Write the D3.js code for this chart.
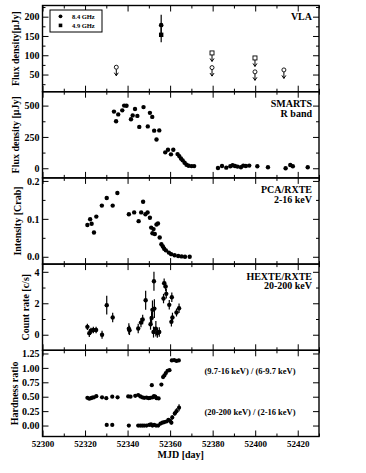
<!DOCTYPE html>
<html>
<head>
<meta charset="utf-8">
<script src="https://cdn.jsdelivr.net/npm/d3@7"></script>
<style>
  body { margin: 0; background: #fff; }
  svg { display: block; }
  text { font-family: "Liberation Serif", "DejaVu Serif", serif; font-weight: bold; fill: #000; }
</style>
</head>
<body>
<svg id="chart"></svg>
<script>
// ---- data ----
var mjdMajor = [52300, 52320, 52340, 52360, 52380, 52400, 52420];
var mjdMinor = [52310, 52330, 52350, 52370, 52390, 52410, 52430];

// VLA: [mjd, flux, err]
var vla84 = [[52355.8, 178, 27]];
var vla49 = [[52355.8, 153, 19]];
// VLA upper limits: [mjd, flux]
var vla84Lim = [[52334.7, 69], [52379.7, 68], [52399.9, 57], [52413.5, 62]];
var vla49Lim = [[52379.7, 106], [52399.9, 93]];

// SMARTS R band: [mjd, flux]
var smarts = [
  [52333.6, 452], [52334.6, 375], [52335.6, 430], [52337.5, 462], [52338.4, 500],
  [52339.5, 499], [52341.6, 391], [52342.4, 422], [52343.5, 473], [52344.6, 418],
  [52345.5, 330], [52347.5, 488], [52349.5, 334], [52350.5, 442], [52351.6, 410],
  [52352.5, 300], [52353.6, 229], [52354.9, 302], [52357.7, 127], [52359.0, 148],
  [52360.4, 111], [52361.5, 148], [52363.5, 113], [52364.3, 97], [52365.1, 78],
  [52365.9, 63], [52366.8, 44], [52367.7, 28], [52368.7, 20], [52370.1, 17],
  [52371.3, 17],
  [52382.5, 2], [52384.4, 18], [52386.4, 5], [52388.3, 16], [52389.4, 24],
  [52390.5, 18], [52391.7, 13], [52393.3, 8], [52394.4, 21], [52395.6, 18],
  [52397.2, 21], [52401.0, 16], [52406.0, 8], [52414.3, 0], [52416.5, 26],
  [52417.7, 16], [52424.7, 8]
];

// PCA/RXTE 2-16 keV: [mjd, crab]
var pca = [
  [52321.1, 0.084], [52322.4, 0.099], [52323.1, 0.087], [52324.2, 0.064], [52325.3, 0.106],
  [52327.9, 0.135], [52330.2, 0.155], [52333.0, 0.135], [52335.2, 0.168], [52340.6, 0.112],
  [52343.1, 0.117], [52345.2, 0.094], [52346.4, 0.117], [52347.3, 0.145], [52348.4, 0.112],
  [52349.4, 0.117], [52350.5, 0.103], [52351.1, 0.077], [52351.7, 0.062], [52352.2, 0.073],
  [52352.8, 0.060], [52353.6, 0.085], [52354.3, 0.088], [52355.1, 0.051], [52355.9, 0.033],
  [52356.6, 0.027], [52357.2, 0.021], [52358.0, 0.017], [52359.4, 0.011], [52360.5, 0.007],
  [52362.1, 0.004], [52363.8, 0.002], [52365.4, 0.001], [52367.0, 0.000], [52369.2, 0.000]
];

// HEXTE/RXTE 20-200 keV: [mjd, rate, err]
var hexte = [
  [52321.1, 0.50, 0.2], [52322.0, 0.10, 0.25], [52322.8, 0.25, 0.2], [52323.9, 0.30, 0.2],
  [52325.2, 0.30, 0.2], [52328.0, 0.00, 0.25], [52330.2, 1.88, 0.6], [52333.0, 1.10, 0.3],
  [52340.6, 0.38, 0.35], [52340.9, 0.28, 0.3], [52345.0, 0.40, 0.3], [52346.3, 0.77, 0.3],
  [52347.1, 0.97, 0.3], [52348.5, 2.19, 0.6], [52350.8, 0.67, 0.35], [52351.3, 1.07, 0.4],
  [52351.7, 1.58, 0.6], [52352.2, 0.17, 0.35], [52352.4, 3.40, 0.6], [52352.6, 1.66, 0.6],
  [52353.3, 0.38, 0.5], [52354.0, 0.11, 0.3], [52354.9, 0.17, 0.3], [52356.9, 2.30, 0.3],
  [52357.2, 3.28, 0.3], [52357.9, 3.07, 0.3], [52358.2, 2.60, 0.3], [52359.6, 1.90, 0.3],
  [52360.8, 2.38, 0.3], [52360.6, 0.82, 0.3], [52361.1, 1.10, 0.3], [52363.0, 1.41, 0.25],
  [52364.2, 1.68, 0.3]
];

// hardness ratios: [mjd, ratio, err]
var hrSoft = [
  [52321.1, 0.48, 0.01], [52322.0, 0.465, 0.01], [52322.8, 0.475, 0.01], [52323.4, 0.485, 0.01],
  [52324.2, 0.49, 0.01], [52325.3, 0.51, 0.01], [52328.0, 0.49, 0.01], [52330.0, 0.475, 0.01],
  [52332.8, 0.50, 0.01], [52335.3, 0.49, 0.01], [52340.3, 0.505, 0.01], [52341.4, 0.50, 0.01],
  [52343.6, 0.515, 0.01], [52345.0, 0.53, 0.01], [52346.0, 0.505, 0.01], [52346.9, 0.49, 0.01],
  [52347.8, 0.48, 0.01], [52348.9, 0.485, 0.01], [52349.9, 0.475, 0.01], [52350.7, 0.48, 0.01],
  [52351.4, 0.70, 0.01], [52351.8, 0.49, 0.01], [52352.4, 0.51, 0.01], [52353.0, 0.50, 0.01],
  [52353.6, 0.475, 0.01], [52354.6, 0.47, 0.01], [52355.9, 0.71, 0.01], [52356.7, 0.84, 0.02],
  [52357.3, 0.87, 0.02], [52358.0, 0.91, 0.02], [52358.8, 0.95, 0.02], [52359.7, 0.96, 0.02],
  [52360.8, 1.13, 0.02], [52361.9, 1.135, 0.02], [52363.0, 1.12, 0.02], [52364.1, 1.13, 0.02]
];
var hrHard = [
  [52330.2, 0.01, 0.01], [52332.8, 0.01, 0.01], [52340.6, 0.00, 0.01], [52345.0, 0.00, 0.01],
  [52346.0, 0.00, 0.01], [52346.9, 0.00, 0.01], [52347.8, 0.00, 0.01], [52348.9, 0.00, 0.01],
  [52350.2, 0.01, 0.01], [52351.0, 0.02, 0.01], [52351.7, 0.00, 0.01], [52352.5, 0.01, 0.01],
  [52353.4, 0.00, 0.01], [52354.4, 0.00, 0.01], [52355.5, 0.035, 0.015], [52356.4, 0.05, 0.02],
  [52357.3, 0.06, 0.02], [52358.3, 0.07, 0.02], [52359.2, 0.10, 0.03], [52360.0, 0.08, 0.03],
  [52360.6, 0.05, 0.03], [52361.0, 0.14, 0.04], [52362.2, 0.21, 0.04], [52363.0, 0.25, 0.05],
  [52364.2, 0.31, 0.06]
];

// ---- layout ----
var width = 366, height = 473;
var left = 42.5, right = 319;
var top0 = 5.5, panelH = 86.2;

var svg = d3.select("#chart").attr("width", width).attr("height", height);

var x = d3.scaleLinear().domain([52300, 52430]).range([left, right]);

var panels = [
  { domain: [5.5, 229], major: [50, 100, 150, 200], minor: [25, 75, 125, 175, 225],
    fmt: d3.format("d"), title: "Flux density[\u03bcJy]", titleX: 15, labels: ["VLA"], ly: 14 },
  { domain: [-77, 611], major: [0, 250, 500], minor: [125, 375],
    fmt: d3.format("d"), title: "Flux density [\u03bcJy]", titleX: 15, labels: ["SMARTS", "R band"], ly: 15.5 },
  { domain: [-0.0193, 0.208], major: [0, 0.1, 0.2], minor: [0.05, 0.15],
    fmt: d3.format(".1f"), title: "Intensity [Crab]", titleX: 17, labels: ["PCA/RXTE", "2-16 keV"], ly: 15.5 },
  { domain: [-0.99, 4.49], major: [0, 2, 4], minor: [1, 3],
    fmt: d3.format("d"), title: "Count rate [c/s]", titleX: 25, labels: ["HEXTE/RXTE", "20-200 keV"], ly: 15.5 },
  { domain: [-0.19, 1.305], major: [0, 0.25, 0.5, 0.75, 1.0, 1.25], minor: [],
    fmt: d3.format(".2f"), title: "Hardness ratio", titleX: 14, labels: [], ly: 15 }
];

panels.forEach(function (p, i) {
  var y0 = top0 + i * panelH, y1 = y0 + panelH;
  p.y = d3.scaleLinear().domain(p.domain).range([y1, y0]);
  var g = svg.append("g");
  p.g = g;

  // y axes, ticks inward on both sides
  g.append("g").attr("transform", "translate(" + left + ",0)")
    .call(d3.axisLeft(p.y).tickValues(p.major).tickSize(-6).tickPadding(3).tickFormat(p.fmt))
    .call(styleAxis)
    .selectAll("text").style("font-size", "10px");
  g.append("g").attr("transform", "translate(" + left + ",0)")
    .call(d3.axisLeft(p.y).tickValues(p.minor).tickSize(-3).tickFormat(""))
    .call(styleAxis);
  g.append("g").attr("transform", "translate(" + right + ",0)")
    .call(d3.axisRight(p.y).tickValues(p.major).tickSize(-6).tickFormat(""))
    .call(styleAxis);
  g.append("g").attr("transform", "translate(" + right + ",0)")
    .call(d3.axisRight(p.y).tickValues(p.minor).tickSize(-3).tickFormat(""))
    .call(styleAxis);

  // x ticks on top and bottom of every panel
  var last = i === panels.length - 1;
  g.append("g").attr("transform", "translate(0," + y1 + ")")
    .call(d3.axisBottom(x).tickValues(mjdMajor).tickSize(-6).tickPadding(4)
      .tickFormat(last ? d3.format("d") : ""))
    .call(styleAxis);
  g.append("g").attr("transform", "translate(0," + y1 + ")")
    .call(d3.axisBottom(x).tickValues(mjdMinor).tickSize(-3).tickFormat(""))
    .call(styleAxis);
  g.append("g").attr("transform", "translate(0," + y0 + ")")
    .call(d3.axisTop(x).tickValues(mjdMajor).tickSize(-6).tickFormat(""))
    .call(styleAxis);
  g.append("g").attr("transform", "translate(0," + y0 + ")")
    .call(d3.axisTop(x).tickValues(mjdMinor).tickSize(-3).tickFormat(""))
    .call(styleAxis);

  g.append("rect")
    .attr("x", left).attr("y", y0)
    .attr("width", right - left).attr("height", panelH)
    .attr("fill", "none").attr("stroke", "#000").attr("stroke-width", 1.4);

  g.append("text")
    .attr("transform", "translate(" + p.titleX + "," + ((y0 + y1) / 2) + ") rotate(-90)")
    .attr("text-anchor", "middle").attr("dominant-baseline", "central")
    .style("font-size", "10px").text(p.title);

  p.labels.forEach(function (t, k) {
    g.append("text").attr("x", 312).attr("y", y0 + p.ly + k * 9.8)
      .attr("text-anchor", "end").style("font-size", "10px").text(t);
  });
});

function styleAxis(sel) {
  sel.select(".domain").remove();
  sel.selectAll("line").attr("stroke", "#000").attr("stroke-width", 1);
  sel.selectAll("text").style("font-size", "9px")
    .style("font-family", "'Liberation Serif', serif").style("font-weight", "bold");
}

svg.append("text").attr("x", (left + right) / 2).attr("y", 458)
  .attr("text-anchor", "middle").style("font-size", "10px").text("MJD [day]");

// ---- panel 1: VLA ----
var p1 = panels[0];
function errBars(g, data, y) {
  g.selectAll(null).data(data).enter().append("line")
    .attr("x1", function (d) { return x(d[0]); }).attr("x2", function (d) { return x(d[0]); })
    .attr("y1", function (d) { return y(d[1] - d[2]); }).attr("y2", function (d) { return y(d[1] + d[2]); })
    .attr("stroke", "#000").attr("stroke-width", 1.2);
}
errBars(p1.g, vla84, p1.y);
errBars(p1.g, vla49, p1.y);
p1.g.selectAll(null).data(vla84).enter().append("circle")
  .attr("cx", function (d) { return x(d[0]); }).attr("cy", function (d) { return p1.y(d[1]); })
  .attr("r", 2.3);
p1.g.selectAll(null).data(vla49).enter().append("rect")
  .attr("x", function (d) { return x(d[0]) - 2.2; }).attr("y", function (d) { return p1.y(d[1]) - 2.2; })
  .attr("width", 4.4).attr("height", 4.4);

function limits(g, data, y, square) {
  var s = g.selectAll(null).data(data).enter().append("g")
    .attr("transform", function (d) { return "translate(" + x(d[0]) + "," + y(d[1]) + ")"; });
  s.append("line").attr("y1", 2).attr("y2", 8.5).attr("stroke", "#000").attr("stroke-width", 1);
  s.append("path").attr("d", "M-2,5.5L0,8.5L2,5.5").attr("fill", "none")
    .attr("stroke", "#000").attr("stroke-width", 1);
  if (square) {
    s.append("rect").attr("x", -2).attr("y", -2).attr("width", 4).attr("height", 4)
      .attr("fill", "#fff").attr("stroke", "#000").attr("stroke-width", 0.9);
  } else {
    s.append("circle").attr("r", 2).attr("fill", "#fff")
      .attr("stroke", "#000").attr("stroke-width", 0.9);
  }
}
limits(p1.g, vla84Lim, p1.y, false);
limits(p1.g, vla49Lim, p1.y, true);

// legend
var lg = p1.g.append("g");
lg.append("rect").attr("x", 50).attr("y", 10).attr("width", 52).attr("height", 22)
  .attr("fill", "#fff").attr("stroke", "#000").attr("stroke-width", 1);
lg.append("circle").attr("cx", 60.5).attr("cy", 16.3).attr("r", 1.9);
lg.append("rect").attr("x", 58.7).attr("y", 23.6).attr("width", 3.6).attr("height", 3.6);
lg.append("text").attr("x", 72).attr("y", 18.5).style("font-size", "6.5px").text("8.4 GHz");
lg.append("text").attr("x", 72).attr("y", 27.5).style("font-size", "6.5px").text("4.9 GHz");

// ---- panel 2 and 3: dots ----
function dots(g, data, y, r) {
  g.selectAll(null).data(data).enter().append("circle")
    .attr("cx", function (d) { return x(d[0]); }).attr("cy", function (d) { return y(d[1]); })
    .attr("r", r);
}
dots(panels[1].g, smarts, panels[1].y, 2.2);
dots(panels[2].g, pca, panels[2].y, 2.2);

// ---- panel 4: HEXTE ----
errBars(panels[3].g, hexte, panels[3].y);
dots(panels[3].g, hexte, panels[3].y, 2.2);

// ---- panel 5: hardness ----
var p5 = panels[4];
errBars(p5.g, hrSoft, p5.y);
errBars(p5.g, hrHard, p5.y);
dots(p5.g, hrSoft, p5.y, 2.1);
dots(p5.g, hrHard, p5.y, 2.1);
p5.g.append("text").attr("x", 250).attr("y", p5.y(1.0) + 5.7)
  .attr("text-anchor", "middle").style("font-size", "8.5px").text("(9.7-16 keV) / (6-9.7 keV)");
p5.g.append("text").attr("x", 250).attr("y", p5.y(0.25) + 4)
  .attr("text-anchor", "middle").style("font-size", "8.5px").text("(20-200 keV) / (2-16 keV)");
</script>
</body>
</html>
